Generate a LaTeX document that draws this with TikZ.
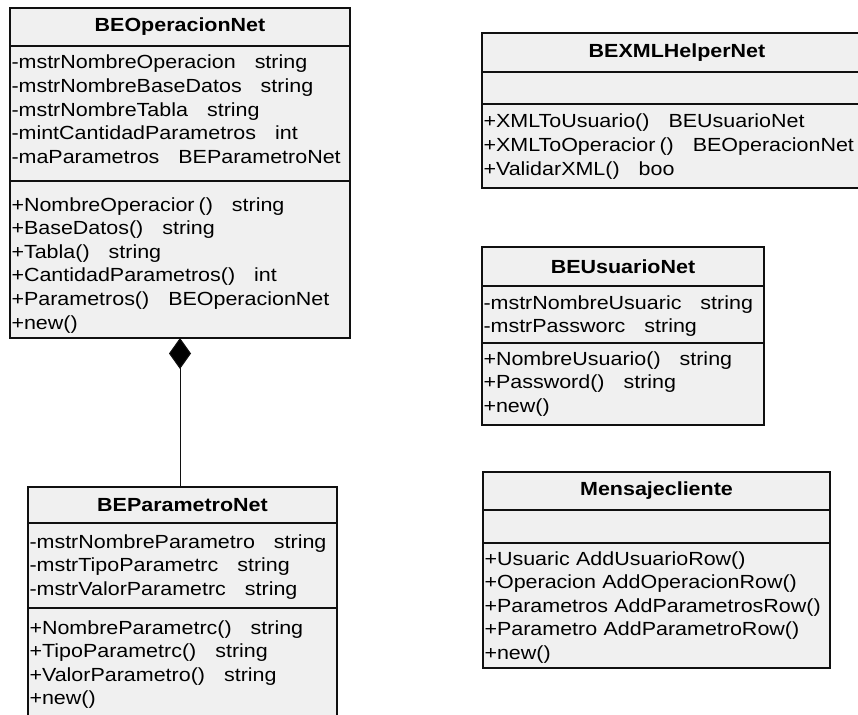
\documentclass[tikz,border=0pt]{standalone}
\usepackage{fontspec}
\setmainfont{Liberation Sans}[FakeStretch=1.13]
\usetikzlibrary{arrows.meta}
\definecolor{classfill}{HTML}{F0F0F0}
\definecolor{classline}{HTML}{101010}
% gap between a member name and its type
\newcommand{\typegap}{\hspace{19pt}}

\begin{document}
\begin{tikzpicture}[x=1pt,y=-1pt,
  compart/.style={draw=classline, line width=1.5pt, fill=classfill,
    anchor=north west, outer sep=0pt, inner xsep=1.5pt, inner ysep=0pt,
    font=\fontsize{19}{23.6}\selectfont},
  classhead/.style={compart, align=center,
    font=\bfseries\fontsize{19}{23.6}\selectfont},
  members/.style={compart, align=left},
  % first baseline below the top edge / remaining height of the compartment
  rows/.style 2 args={text height=#1pt, text depth=#2pt},
  composition/.style={line width=1pt, draw=classline,
    {Diamond[length=31pt,width=22pt,fill=black]}-}
]
\useasboundingbox (0,0) rectangle (858,714);
\fill[white] (0,0) rectangle (858,714);
\clip (0,0) rectangle (858,714);

% ---- BEOperacionNet
\node[classhead, minimum width=340pt, minimum height=38pt] (opH) at (10,8) {BEOperacionNet};
\node[members, minimum width=340pt, text width=337pt, rows={23}{112}] (opA) at (opH.south west)
  {-mstrNombreOperacion\typegap string\\
   -mstrNombreBaseDatos\typegap string\\
   -mstrNombreTabla\typegap string\\
   -mintCantidadParametros\typegap int\\
   -maParametros\typegap BEParametroNet};
\node[members, minimum width=340pt, text width=337pt, rows={30}{127}] (opM) at (opA.south west)
  {+NombreOperacior\hspace{4pt}()\typegap string\\
   +BaseDatos()\typegap string\\
   +Tabla()\typegap string\\
   +CantidadParametros()\typegap int\\
   +Parametros()\typegap BEOperacionNet\\
   +new()};

% ---- BEParametroNet
\node[classhead, minimum width=309pt, minimum height=36pt] (parH) at (28,487) {BEParametroNet};
\node[members, minimum width=309pt, text width=306pt, rows={25}{60}] (parA) at (parH.south west)
  {-mstrNombreParametro\typegap string\\
   -mstrTipoParametrc\typegap string\\
   -mstrValorParametrc\typegap string};
\node[members, minimum width=309pt, text width=306pt, rows={26}{124}] (parM) at (parA.south west)
  {+NombreParametrc()\typegap string\\
   +TipoParametrc()\typegap string\\
   +ValorParametro()\typegap string\\
   +new()};

% ---- BEXMLHelperNet
\node[classhead, minimum width=390pt, minimum height=39pt] (xmlH) at (482,33) {BEXMLHelperNet};
\node[members, minimum width=390pt, text width=387pt, minimum height=32pt] (xmlA) at (xmlH.south west) {};
\node[members, minimum width=390pt, text width=387pt, rows={24}{60}] (xmlM) at (xmlA.south west)
  {+XMLToUsuario()\typegap BEUsuarioNet\\
   +XMLToOperacior\hspace{4pt}()\typegap BEOperacionNet\\
   +ValidarXML()\typegap boo};

% ---- BEUsuarioNet
\node[classhead, minimum width=282pt, minimum height=39pt] (usH) at (482,247) {BEUsuarioNet};
\node[members, minimum width=282pt, text width=279pt, rows={23}{34}] (usA) at (usH.south west)
  {-mstrNombreUsuaric\typegap string\\
   -mstrPassworc\typegap string};
\node[members, minimum width=282pt, text width=279pt, rows={22}{60}] (usM) at (usA.south west)
  {+NombreUsuario()\typegap string\\
   +Password()\typegap string\\
   +new()};

% ---- Mensajecliente
\node[classhead, minimum width=347pt, minimum height=38pt] (msgH) at (483,472) {Mensajecliente};
\node[members, minimum width=347pt, text width=344pt, minimum height=33pt] (msgA) at (msgH.south west) {};
\node[members, minimum width=347pt, text width=344pt, rows={22}{103}] (msgM) at (msgA.south west)
  {+Usuaric AddUsuarioRow()\\
   +Operacion AddOperacionRow()\\
   +Parametros AddParametrosRow()\\
   +Parametro AddParametroRow()\\
   +new()};

% ---- composition BEOperacionNet <>-- BEParametroNet
\draw[composition] (opM.south) -- (opM.south |- parH.north);
\end{tikzpicture}
\end{document}
